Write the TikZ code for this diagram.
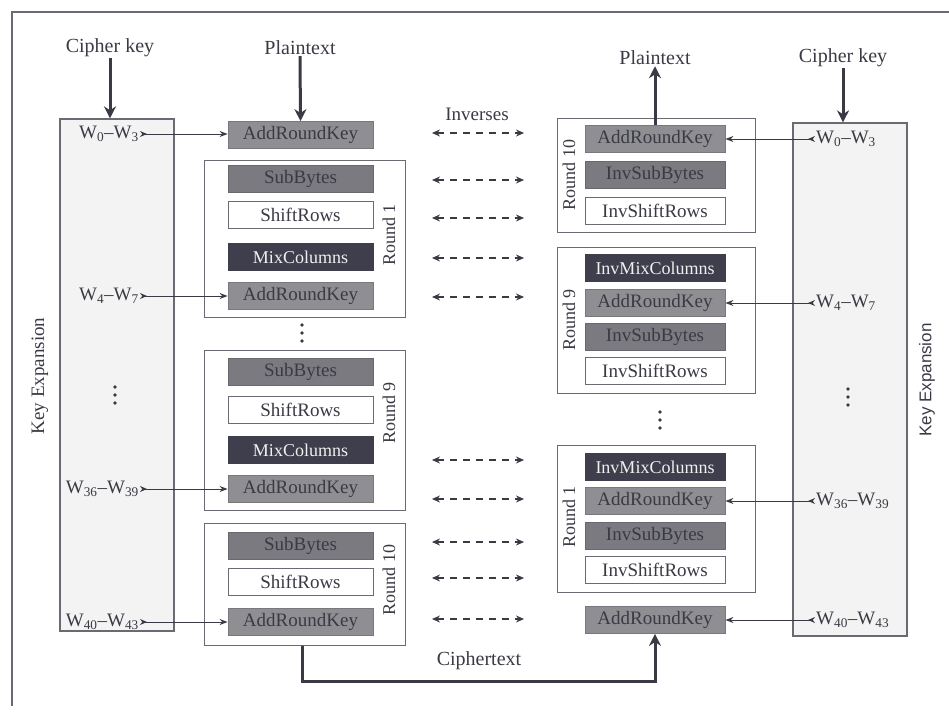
\documentclass[tikz,border=0pt]{standalone}
\usepackage{fontspec}
\setmainfont{Liberation Serif}
\setsansfont{Liberation Sans}
\usetikzlibrary{arrows.meta}
\definecolor{ink}{HTML}{3A3A44}
\definecolor{midg}{HTML}{8E8E93}
\definecolor{subg}{HTML}{7A7A80}
\definecolor{darkg}{HTML}{3E3E4C}
\definecolor{keyg}{HTML}{F3F3F3}
\definecolor{framec}{HTML}{6A6A72}
\begin{document}
\begin{tikzpicture}[x=1pt,y=-1pt,
  font=\fontsize{19}{21}\selectfont,
  op/.style={minimum height=27pt, inner sep=0pt, anchor=center, line width=0.8pt},
  opL/.style={op, minimum width=145pt},
  opR/.style={op, minimum width=140pt},
  ark/.style={fill=midg, draw=midg!85!black, text=ink},
  sub/.style={fill=subg, draw=subg!85!black, text=ink},
  shr/.style={fill=white, draw=framec, text=ink},
  mix/.style={fill=darkg, draw=darkg, text=white!88!gray, font=\fontsize{18}{20}\selectfont},
  rndbox/.style={draw=framec, line width=1pt, inner sep=0pt},
  keybox/.style={draw=framec, fill=keyg, line width=1.2pt, inner sep=0pt},
  inv/.style={{Stealth[length=8pt,width=7pt]}-{Stealth[length=8pt,width=7pt]}, dash pattern=on 7pt off 6pt, line width=1.2pt, draw=ink},
  warrow/.style={{Stealth[reversed,length=7pt,width=6pt]}-{Stealth[length=8pt,width=6pt]}, line width=1pt, draw=ink},
  bigarrow/.style={-{Stealth[length=12pt,width=12pt]}, line width=3pt, draw=ink},
  lbl/.style={font=\fontsize{20}{22}\selectfont, text=ink, inner sep=1pt},
  wlbl/.style={font=\fontsize{19}{21}\selectfont, text=ink, inner sep=1pt},
  rlbl/.style={font=\fontsize{18}{20}\selectfont, text=ink, rotate=90, inner sep=1pt},
  dotc/.style={fill=ink},
]
\useasboundingbox (0,0) rectangle (949,712);
% outer frame
\draw[framec, line width=1.2pt] (12,706) -- (12,12) -- (949,12);

% key expansion boxes
\node[keybox, minimum width=114pt, minimum height=512pt] (keyL) at (117,375) {};
\node[keybox, minimum width=114pt, minimum height=513pt] (keyR) at (850,379.5) {};
\node[rlbl, font=\fontsize{19}{21}\selectfont] (keL) at (40,376) {Key Expansion};
\node[rlbl, font=\sffamily\fontsize{17}{19}\selectfont] (keR) at (927,380) {Key Expansion};

% left round frames
\node[rndbox, minimum width=201pt, minimum height=157pt] (R1L) at (304.5,238.5) {};
\node[rndbox, minimum width=201pt, minimum height=160pt] (R9L) at (304.5,430) {};
\node[rndbox, minimum width=201pt, minimum height=122pt] (R10L) at (304.5,584) {};
\node[rlbl] (lr1) at (389,235) {Round 1};
\node[rlbl] (lr9) at (389,413) {Round 9};
\node[rlbl] (lr10) at (389,580) {Round 10};

% right round frames
\node[rndbox, minimum width=198pt, minimum height=114pt] (R10R) at (656,175) {};
\node[rndbox, minimum width=198pt, minimum height=146pt] (R9R) at (656,320) {};
\node[rndbox, minimum width=198pt, minimum height=147pt] (R1R) at (656,518.5) {};
\node[rlbl] (rr10) at (569,175) {Round 10};
\node[rlbl] (rr9) at (569,320) {Round 9};
\node[rlbl] (rr1) at (569,517) {Round 1};

% left column operations
\node[opL, ark] (ark0) at (300.5,135) {AddRoundKey};
\node[opL, sub] (s1) at (300.5,179) {SubBytes};
\node[opL, shr] (sr1) at (300.5,215) {ShiftRows};
\node[opL, mix] (mc1) at (300.5,257) {MixColumns};
\node[opL, ark] (ark1) at (300.5,296) {AddRoundKey};
\node[opL, sub] (s9) at (300.5,372) {SubBytes};
\node[opL, shr] (sr9) at (300.5,410) {ShiftRows};
\node[opL, mix] (mc9) at (300.5,450) {MixColumns};
\node[opL, ark] (ark9) at (300.5,489) {AddRoundKey};
\node[opL, sub] (s10) at (300.5,546) {SubBytes};
\node[opL, shr] (sr10) at (300.5,582) {ShiftRows};
\node[opL, ark] (ark10) at (300.5,622) {AddRoundKey};

% right column operations
\node[opR, ark] (rark10) at (655,139) {AddRoundKey};
\node[opR, sub] (ris10) at (655,175) {InvSubBytes};
\node[opR, shr] (risr10) at (655,211) {InvShiftRows};
\node[opR, mix] (rimc9) at (655,268) {InvMixColumns};
\node[opR, ark] (rark9) at (655,303) {AddRoundKey};
\node[opR, sub] (ris9) at (655,337) {InvSubBytes};
\node[opR, shr] (risr9) at (655,371) {InvShiftRows};
\node[opR, mix] (rimc1) at (655,467) {InvMixColumns};
\node[opR, ark] (rark1) at (655,501) {AddRoundKey};
\node[opR, sub] (ris1) at (655,536) {InvSubBytes};
\node[opR, shr] (risr1) at (655,570) {InvShiftRows};
\node[opR, ark] (rarkF) at (655,620) {AddRoundKey};

% top labels and thick arrows
\node[lbl] (ckL) at (110,48) {Cipher key};
\node[lbl] (ptL) at (300,48) {Plaintext};
\node[lbl] (ptR) at (655,58) {Plaintext};
\node[lbl] (ckR) at (843,58) {Cipher key};
\draw[bigarrow] (ckL.south) -- (ckL.south |- keyL.north);
\draw[bigarrow] (ptL.south) -- (ark0.north);
\draw[bigarrow] (rark10.north) -- (ptR.south);
\draw[bigarrow] (ckR.south) -- (ckR.south |- keyR.north);

% left key words
\node[wlbl, anchor=east] (wl0) at (140,134) {W\textsubscript{0}--W\textsubscript{3}};
\node[wlbl, anchor=east] (wl4) at (140,296) {W\textsubscript{4}--W\textsubscript{7}};
\node[wlbl, anchor=east] (wl36) at (140,489) {W\textsubscript{36}--W\textsubscript{39}};
\node[wlbl, anchor=east] (wl40) at (140,622) {W\textsubscript{40}--W\textsubscript{43}};
\draw[warrow] (wl0.east) -- (ark0.west |- wl0.east);
\draw[warrow] (wl4.east) -- (ark1.west);
\draw[warrow] (wl36.east) -- (ark9.west);
\draw[warrow] (wl40.east) -- (ark10.west);

% right key words
\node[wlbl, anchor=west] (wr0) at (815,139) {W\textsubscript{0}--W\textsubscript{3}};
\node[wlbl, anchor=west] (wr4) at (815,303) {W\textsubscript{4}--W\textsubscript{7}};
\node[wlbl, anchor=west] (wr36) at (815,501) {W\textsubscript{36}--W\textsubscript{39}};
\node[wlbl, anchor=west] (wr40) at (815,620) {W\textsubscript{40}--W\textsubscript{43}};
\draw[warrow] (wr0.west) -- (rark10.east);
\draw[warrow] (wr4.west) -- (rark9.east);
\draw[warrow] (wr36.west) -- (rark1.east);
\draw[warrow] (wr40.west) -- (rarkF.east);

% inverses
\node[lbl, font=\fontsize{19}{21}\selectfont] (invlbl) at (477,114) {Inverses};
\foreach \yy [count=\i] in {133,180,218,258,297,460,499,542,578,619}{
  \coordinate (il\i) at (432,\yy);
  \coordinate (ir\i) at (524,\yy);
  \draw[inv] (il\i) -- (ir\i);
}

% ciphertext
\coordinate (cb) at (302,681);
\draw[line width=3pt, ink, -{Stealth[length=12pt,width=12pt]}] (R10L.south -| cb) -- (cb) -| (rarkF.south);
\node[lbl] (ctlbl) at (479,661) {Ciphertext};

% vertical dots
\foreach \cx/\cy in {115/395, 302/333, 660/420, 848/397}{
  \foreach \dd in {-8,0,8}{
    \fill[dotc] (\cx,\cy+\dd) circle (1.8pt);
  }
}
\end{tikzpicture}
\end{document}
